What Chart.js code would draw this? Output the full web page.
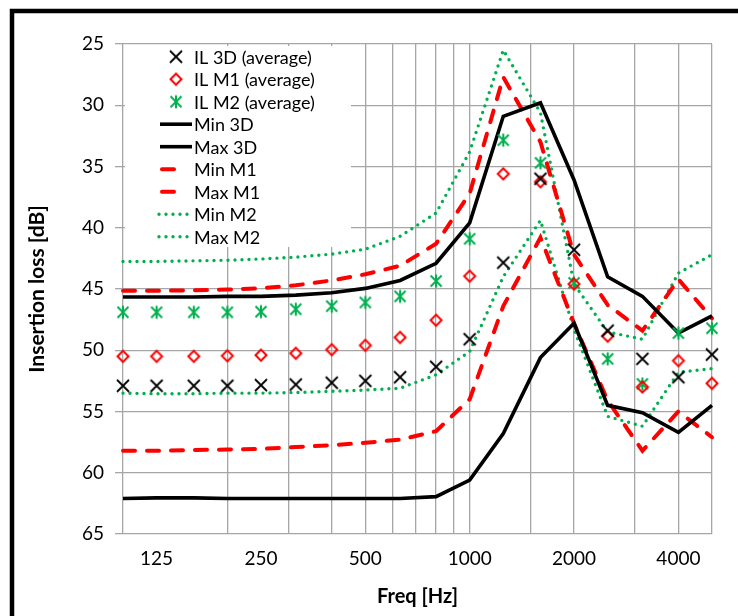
<!DOCTYPE html>
<html>
<head>
<meta charset="utf-8">
<script src="https://cdn.jsdelivr.net/npm/chart.js@4.4.1/dist/chart.umd.min.js"></script>
<style>
  html, body { margin: 0; padding: 0; background: #fff; }
  canvas { display: block; }
</style>
</head>
<body>
<canvas id="chart" width="738" height="616"></canvas>
<script>
// One-third-octave band centre frequencies [Hz]
const freqs = [100, 125, 160, 200, 250, 315, 400, 500, 630, 800, 1000, 1250, 1600, 2000, 2500, 3150, 4000, 5000];

// Averaged insertion loss per configuration [dB]
const il3dAvg = [52.9, 52.9, 52.9, 52.9, 52.85, 52.8, 52.65, 52.5, 52.2, 51.35, 49.1, 42.85, 36.0, 41.8, 48.4, 50.7, 52.2, 50.35];
const ilM1Avg = [50.5, 50.5, 50.5, 50.45, 50.4, 50.25, 49.95, 49.6, 48.95, 47.55, 43.95, 35.6, 36.25, 44.6, 48.85, 53.0, 50.85, 52.7];
const ilM2Avg = [46.9, 46.9, 46.9, 46.9, 46.85, 46.65, 46.4, 46.1, 45.6, 44.35, 40.9, 32.85, 34.7, 44.5, 50.7, 52.75, 48.6, 48.2];

// Envelopes (min / max) per configuration [dB]
const min3D = [62.1, 62.05, 62.05, 62.1, 62.1, 62.1, 62.1, 62.1, 62.1, 61.95, 60.6, 56.8, 50.6, 47.8, 54.5, 55.1, 56.7, 54.5];
const max3D = [45.65, 45.65, 45.65, 45.6, 45.6, 45.5, 45.3, 44.95, 44.3, 42.9, 39.6, 30.9, 29.8, 36.1, 44.0, 45.6, 48.6, 47.2];
const minM1 = [58.2, 58.2, 58.15, 58.1, 58.05, 57.9, 57.75, 57.55, 57.3, 56.6, 54.0, 46.4, 40.8, 47.8, 54.1, 58.2, 55.0, 57.1];
const maxM1 = [45.15, 45.15, 45.1, 45.05, 44.95, 44.7, 44.3, 43.8, 43.1, 41.3, 37.2, 27.7, 33.0, 42.2, 46.3, 48.4, 44.2, 47.4];
const minM2 = [53.5, 53.55, 53.55, 53.5, 53.5, 53.45, 53.35, 53.25, 53.1, 52.0, 50.1, 44.0, 39.4, 48.3, 55.4, 56.2, 51.8, 51.5];
const maxM2 = [42.75, 42.75, 42.7, 42.65, 42.55, 42.4, 42.15, 41.75, 40.7, 38.8, 33.8, 25.5, 30.6, 44.6, 48.5, 49.1, 43.7, 42.2];

// Octave labels shown under the frequency axis
const octaveLabels = [125, 250, 500, 1000, 2000, 4000];

const FONT = 'Lato, "Open Sans", "DejaVu Sans", sans-serif';
const BLACK = '#000000';
const RED = '#ff0000';
const GREEN = '#00b050';

// --- marker glyphs -------------------------------------------------------
function makeMarker(size, draw) {
  const c = document.createElement('canvas');
  c.width = size; c.height = size;
  const g = c.getContext('2d');
  draw(g, size / 2);
  return c;
}
const crossMarker = makeMarker(16, (g, c) => {
  g.strokeStyle = BLACK; g.lineWidth = 1.8;
  g.beginPath();
  g.moveTo(c - 6, c - 6); g.lineTo(c + 6, c + 6);
  g.moveTo(c + 6, c - 6); g.lineTo(c - 6, c + 6);
  g.stroke();
});
const diamondMarker = makeMarker(16, (g, c) => {
  g.strokeStyle = RED; g.lineWidth = 2;
  g.beginPath();
  g.moveTo(c, c - 5.5); g.lineTo(c + 5.5, c); g.lineTo(c, c + 5.5); g.lineTo(c - 5.5, c);
  g.closePath();
  g.stroke();
});
const starMarker = makeMarker(16, (g, c) => {
  g.strokeStyle = GREEN; g.lineWidth = 2;
  g.beginPath();
  g.moveTo(c - 5.5, c - 5.5); g.lineTo(c + 5.5, c + 5.5);
  g.moveTo(c + 5.5, c - 5.5); g.lineTo(c - 5.5, c + 5.5);
  g.moveTo(c, c - 6.5); g.lineTo(c, c + 6.5);
  g.stroke();
});

const toXY = arr => freqs.map((f, i) => ({ x: f, y: arr[i] }));

function markerSet(label, values, marker) {
  return {
    label, data: toXY(values), showLine: false,
    pointStyle: marker, pointRadius: 8, pointHoverRadius: 8,
    borderColor: 'transparent', backgroundColor: 'transparent',
    clip: false, kind: 'marker', marker
  };
}
function lineSet(label, values, color, dash, width, cap) {
  return {
    label, data: toXY(values), showLine: true,
    borderColor: color, borderWidth: width, borderDash: dash,
    borderCapStyle: cap, borderJoinStyle: 'miter',
    pointRadius: 0, tension: 0, fill: false, clip: false, kind: 'line'
  };
}

const datasets = [
  markerSet('IL 3D (average)', il3dAvg, crossMarker),
  markerSet('IL M1 (average)', ilM1Avg, diamondMarker),
  markerSet('IL M2 (average)', ilM2Avg, starMarker),
  lineSet('Min 3D', min3D, BLACK, [], 3.6, 'butt'),
  lineSet('Max 3D', max3D, BLACK, [], 3.6, 'butt'),
  lineSet('Min M1', minM1, RED, [12, 12], 4, 'round'),
  lineSet('Max M1', maxM1, RED, [12, 12], 4, 'round'),
  lineSet('Min M2', minM2, GREEN, [0, 7], 3.4, 'round'),
  lineSet('Max M2', maxM2, GREEN, [0, 7], 3.4, 'round')
];

// Legend drawn inside the plot, top-left, on a white panel
const insetLegend = {
  id: 'insetLegend',
  beforeDatasetsDraw(chart) {
    const { ctx, chartArea } = chart;
    const left = chartArea.left;
    const top = chartArea.top;
    ctx.save();
    ctx.fillStyle = '#ffffff';
    ctx.fillRect(left + 2, top + 2, 226, 201);
    ctx.font = '18px ' + FONT;
    ctx.textBaseline = 'middle';
    ctx.textAlign = 'left';
    chart.data.datasets.forEach((ds, i) => {
      const y = top + 12.7 + i * 22.5;
      if (ds.kind === 'marker') {
        ctx.drawImage(ds.marker, left + 53 - 8, y - 8);
      } else {
        ctx.save();
        ctx.strokeStyle = ds.borderColor;
        ctx.lineWidth = ds.borderWidth;
        ctx.lineCap = ds.borderCapStyle;
        ctx.setLineDash(ds.borderDash);
        ctx.beginPath();
        if (ds.borderColor === RED) {
          ctx.moveTo(left + 39, y); ctx.lineTo(left + 52, y);
        } else if (ds.borderColor === GREEN) {
          ctx.moveTo(left + 36, y); ctx.lineTo(left + 69, y);
        } else {
          ctx.moveTo(left + 37, y); ctx.lineTo(left + 69, y);
        }
        ctx.stroke();
        ctx.restore();
      }
      ctx.fillStyle = '#000';
      ctx.fillText(ds.label, left + 71, y + 1);
    });
    ctx.restore();
  }
};

// White page plus the heavy frame around the figure
const frame = {
  id: 'frame',
  beforeDraw(chart) {
    const { ctx, width, height } = chart;
    ctx.save();
    ctx.fillStyle = '#ffffff';
    ctx.fillRect(0, 0, width, height);
    ctx.restore();
  },
  afterDraw(chart) {
    const { ctx } = chart;
    ctx.save();
    ctx.strokeStyle = '#000';
    ctx.lineWidth = 4.5;
    ctx.strokeRect(12, 11, 800, 700);
    ctx.restore();
  }
};

const GRID = '#a6a6a6';

new Chart(document.getElementById('chart'), {
  type: 'line',
  data: { datasets },
  options: {
    responsive: false,
    animation: false,
    devicePixelRatio: 1,
    layout: { padding: { top: 44, right: 26, left: 0, bottom: 0 } },
    plugins: { legend: { display: false }, tooltip: { enabled: false } },
    scales: {
      x: {
        type: 'logarithmic', position: 'bottom', min: 100, max: 5000,
        grid: { color: GRID, lineWidth: 1.3, drawTicks: false },
        border: { display: false },
        ticks: { display: false },
        afterFit(scale) { scale.height = 0; }
      },
      xLabels: {
        type: 'logarithmic', position: 'bottom', min: 100, max: 5000,
        grid: { display: false, drawTicks: false },
        border: { display: false },
        afterBuildTicks(scale) { scale.ticks = octaveLabels.map(v => ({ value: v })); },
        ticks: {
          autoSkip: false, maxRotation: 0, padding: 13, color: '#000',
          font: { family: FONT, size: 19 },
          callback: v => String(v)
        },
        title: {
          display: true, text: 'Freq [Hz]', color: '#000',
          font: { family: FONT, size: 20, weight: 'bold' },
          padding: { top: 0, bottom: 7 }
        },
        afterFit(scale) { scale.height = 82; }
      },
      y: {
        type: 'linear', reverse: true, min: 25, max: 65,
        grid: { color: GRID, lineWidth: 1.3, tickLength: 8 },
        border: { display: false },
        ticks: {
          stepSize: 5, padding: 11, color: '#000',
          font: { family: FONT, size: 19 }
        },
        title: {
          display: true, text: 'Insertion loss [dB]', color: '#000',
          font: { family: FONT, size: 21, weight: 'bold' },
          padding: { top: 25, bottom: 0 }
        },
        afterFit(scale) { scale.width = 123; }
      }
    }
  },
  plugins: [frame, insetLegend]
});
</script>
</body>
</html>
